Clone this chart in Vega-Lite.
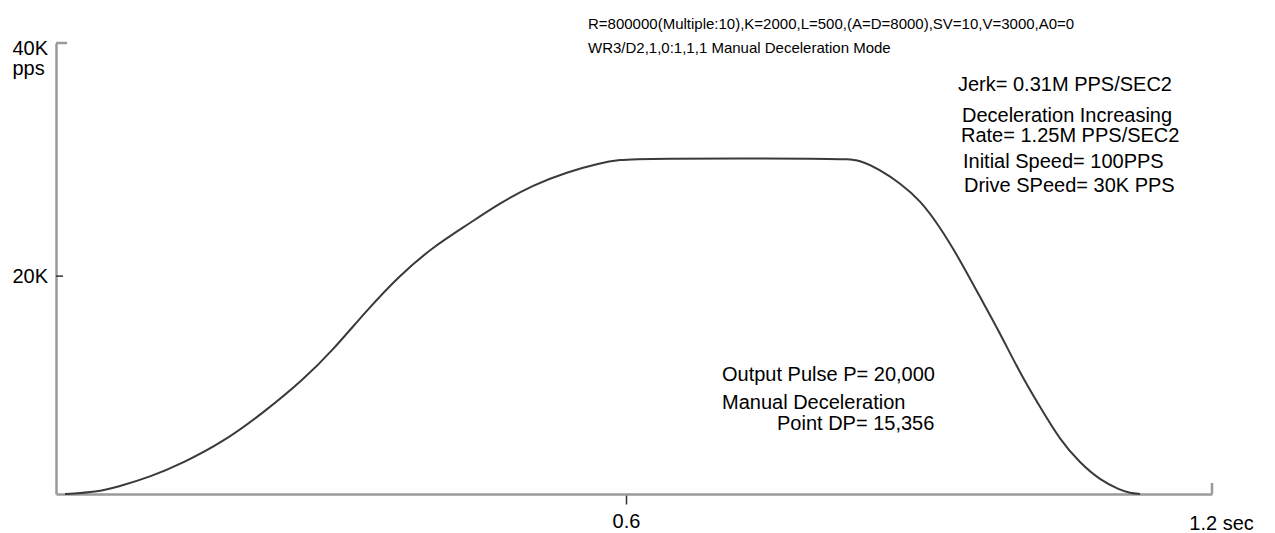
{
  "$schema": "https://vega.github.io/schema/vega-lite/v6.json",
  "width": 1156,
  "height": 451,
  "autosize": "none",
  "padding": {"left": 56, "top": 43, "right": 63, "bottom": 39},
  "background": "white",
  "view": {"stroke": null},
  "config": {
    "font": "Liberation Sans",
    "axis": {"labelFont": "Liberation Sans", "labelColor": "black", "domainColor": "#9a9a9a", "domainWidth": 2.5, "grid": false, "title": null}
  },
  "datasets": {
    "curve": [
      {"t": 0.0256, "v": 0},
      {"t": 0.0584, "v": 184},
      {"t": 0.0789, "v": 643},
      {"t": 0.1126, "v": 1560},
      {"t": 0.1464, "v": 2845},
      {"t": 0.1874, "v": 4773},
      {"t": 0.2283, "v": 7435},
      {"t": 0.2693, "v": 10464},
      {"t": 0.3000, "v": 13218},
      {"t": 0.3348, "v": 16889},
      {"t": 0.3686, "v": 20102},
      {"t": 0.4024, "v": 22672},
      {"t": 0.4372, "v": 24692},
      {"t": 0.4710, "v": 26711},
      {"t": 0.5048, "v": 28363},
      {"t": 0.5396, "v": 29556},
      {"t": 0.5734, "v": 30382},
      {"t": 0.5939, "v": 30680},
      {"t": 0.6144, "v": 30800},
      {"t": 0.8191, "v": 30800},
      {"t": 0.8396, "v": 30680},
      {"t": 0.8601, "v": 29740},
      {"t": 0.8806, "v": 28547},
      {"t": 0.9010, "v": 26986},
      {"t": 0.9215, "v": 24508},
      {"t": 0.9420, "v": 21479},
      {"t": 0.9625, "v": 18083},
      {"t": 0.9829, "v": 14778},
      {"t": 1.0034, "v": 11107},
      {"t": 1.0239, "v": 7986},
      {"t": 1.0444, "v": 4957},
      {"t": 1.0649, "v": 2845},
      {"t": 1.0853, "v": 1285},
      {"t": 1.1058, "v": 367},
      {"t": 1.1161, "v": 92},
      {"t": 1.1263, "v": 0}
    ],
    "caps": [
      {"t": 0.0164, "t2": 0.0277, "v": 41400, "v2": 41400},
      {"t": 1.2, "t2": 1.2, "v": 0, "v2": 1010}
    ],
    "yticks": [
      {"t": 0.0164, "t2": 0.0236, "v": 20000}
    ],
    "header": [
      {"t": 0.5611, "v": 42682, "label": "R=800000(Multiple:10),K=2000,L=500,(A=D=8000),SV=10,V=3000,A0=0"},
      {"t": 0.5611, "v": 40479, "label": "WR3/D2,1,0:1,1,1 Manual Deceleration Mode"}
    ],
    "notes": [
      {"t": 0.9399, "v": 36991, "label": "Jerk= 0.31M PPS/SEC2"},
      {"t": 0.9440, "v": 34146, "label": "Deceleration Increasing"},
      {"t": 0.9430, "v": 32310, "label": "Rate= 1.25M PPS/SEC2"},
      {"t": 0.9450, "v": 29924, "label": "Initial Speed= 100PPS"},
      {"t": 0.9461, "v": 27721, "label": "Drive SPeed= 30K PPS"},
      {"t": 0.6983, "v": 10372, "label": "Output Pulse P= 20,000"},
      {"t": 0.6983, "v": 7802, "label": "Manual Deceleration"},
      {"t": 0.7546, "v": 5875, "label": "Point DP= 15,356"}
    ]
  },
  "layer": [
    {
      "data": {"name": "curve"},
      "mark": {"type": "line", "color": "#3a3a3a", "strokeWidth": 2, "interpolate": "basis"},
      "encoding": {
        "x": {
          "field": "t", "type": "quantitative",
          "scale": {"domain": [0.0164, 1.2], "nice": false, "zero": false},
          "axis": {
            "values": [0.6, 1.2],
            "labelExpr": "datum.value > 1 ? '1.2 sec' : '0.6'",
            "labelFontSize": 20,
            "labelFlush": false,
            "tickSize": 10,
            "tickColor": "#333333",
            "tickWidth": 1.5,
            "tickOpacity": {"condition": {"test": "datum.value > 1", "value": 0}, "value": 1},
            "labelOffset": {"condition": {"test": "datum.value > 1", "value": 9}, "value": 0},
            "labelPadding": {"condition": {"test": "datum.value > 1", "value": 9}, "value": 7},
            "labelBaseline": "top",
            "title": null
          }
        },
        "y": {
          "field": "v", "type": "quantitative",
          "scale": {"domain": [0, 41400], "nice": false},
          "axis": {
            "values": [20000, 40000],
            "labelExpr": "datum.value > 30000 ? ['40K', 'pps'] : '20K'",
            "labelFontSize": 20,
            "labelLineHeight": 20,
            "labelAlign": "left",
            "labelBaseline": "middle",
            "labelOffset": {"condition": {"test": "datum.value > 30000", "value": -10}, "value": 0},
            "labelPadding": 44,
            "ticks": false,
            "title": null
          }
        }
      }
    },
    {
      "data": {"name": "caps"},
      "mark": {"type": "rule", "color": "#9a9a9a", "strokeWidth": 2.5},
      "encoding": {
        "x": {"field": "t", "type": "quantitative"},
        "x2": {"field": "t2"},
        "y": {"field": "v", "type": "quantitative"},
        "y2": {"field": "v2"}
      }
    },
    {
      "data": {"name": "yticks"},
      "mark": {"type": "rule", "color": "#333333", "strokeWidth": 1.5},
      "encoding": {
        "x": {"field": "t", "type": "quantitative"},
        "x2": {"field": "t2"},
        "y": {"field": "v", "type": "quantitative"}
      }
    },
    {
      "data": {"name": "header"},
      "mark": {"type": "text", "align": "left", "baseline": "alphabetic", "fontSize": 15, "font": "Liberation Sans", "color": "black"},
      "encoding": {
        "x": {"field": "t", "type": "quantitative"},
        "y": {"field": "v", "type": "quantitative"},
        "text": {"field": "label"}
      }
    },
    {
      "data": {"name": "notes"},
      "mark": {"type": "text", "align": "left", "baseline": "alphabetic", "fontSize": 20, "font": "Liberation Sans", "color": "black"},
      "encoding": {
        "x": {"field": "t", "type": "quantitative"},
        "y": {"field": "v", "type": "quantitative"},
        "text": {"field": "label"}
      }
    }
  ]
}
